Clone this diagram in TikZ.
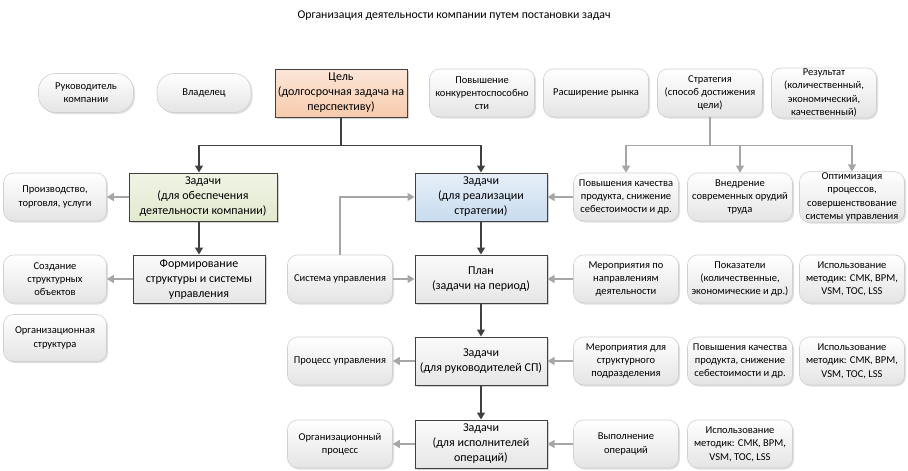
\documentclass[tikz,border=0pt]{standalone}
\usepackage{fontspec}
\setmainfont{Carlito}
\usetikzlibrary{shadows,arrows.meta}
\definecolor{rborder}{HTML}{D0D0D0}
\definecolor{rbot}{HTML}{E4E4E4}
\definecolor{dk}{HTML}{404040}
\definecolor{lg}{HTML}{A6A6A6}
\definecolor{peachT}{HTML}{FCE6D8}
\definecolor{peachB}{HTML}{F7CBAC}
\definecolor{greenT}{HTML}{F0F4E6}
\definecolor{greenB}{HTML}{E2EACD}
\definecolor{blueT}{HTML}{E6EFF8}
\definecolor{blueB}{HTML}{C9DCF0}
\definecolor{grayT}{HTML}{FAFAFA}
\definecolor{grayB}{HTML}{E6E6E6}
\tikzset{
  rbox/.style={rectangle, rounded corners=10pt, draw=rborder, line width=0.6pt,
    top color=white, bottom color=rbot, minimum width=105pt, minimum height=48pt,
    inner sep=1pt, align=center, font=\fontsize{10.5}{13.3}\selectfont,
    drop shadow={shadow xshift=1.5pt, shadow yshift=-1.5pt, opacity=0.25}},
  pill/.style={rbox, rounded corners=17pt, minimum width=95pt, minimum height=39pt},
  tbox/.style={rectangle, draw=dk, line width=1pt, minimum width=132pt, minimum height=48pt,
    inner sep=1pt, align=center, font=\fontsize{12}{15}\selectfont,
    top color=grayT, bottom color=grayB,
    drop shadow={shadow xshift=1.5pt, shadow yshift=-1.5pt, opacity=0.35}},
  darr/.style={draw=dk, line width=1.3pt, -{Triangle[length=7pt,width=8pt]}},
  garr/.style={draw=lg, line width=1.3pt, -{Triangle[length=7pt,width=8pt]}},
}
\begin{document}
\begin{tikzpicture}[x=1pt,y=-1pt]
\useasboundingbox (0,0) rectangle (908,471);
\node[font=\fontsize{11.8}{14}\selectfont] (title) at (454,16) {Организация деятельности компании путем постановки задач};
% top row
\node[pill] (ruk) at (86,93) {Руководитель\\компании};
\node[pill, minimum width=94pt] (vlad) at (204,93) {Владелец};
\node[tbox, top color=peachT, bottom color=peachB] (tsel) at (341,93) {Цель\\(долгосрочная задача на\\перспективу)};
\node[rbox] (pov) at (482,93) {Повышение\\конкурентоспособно\\сти};
\node[rbox] (ras) at (596,93) {Расширение рынка};
\node[rbox] (strat) at (710,93) {Стратегия\\(способ достижения\\цели)};
\node[rbox] (rez) at (824,93) {Результат\\(количественный,\\экономический,\\качественный)};
% row 2
\node[rbox, minimum width=103pt] (proizv) at (55,197) {Производство,\\торговля, услуги};
\node[tbox, minimum width=148pt, top color=greenT, bottom color=greenB] (zad1) at (203,197) {Задачи\\(для обеспечения\\деятельности компании)};
\node[tbox, top color=blueT, bottom color=blueB] (zad2) at (481,197) {Задачи\\(для реализации\\стратегии)};
\node[rbox] (pk1) at (626,197) {Повышения качества\\продукта, снижение\\себестоимости и др.};
\node[rbox] (vnedr) at (740,197) {Внедрение\\современных орудий\\труда};
\node[rbox] (opt) at (852,197) {Оптимизация\\процессов,\\совершенствование\\системы управления};
% row 3
\node[rbox, minimum width=103pt] (sozd) at (55,279) {Создание\\структурных\\объектов};
\node[tbox] (form) at (199,279) {Формирование\\структуры и системы\\управления};
\node[rbox] (sysu) at (340,279) {Система управления};
\node[tbox] (plan) at (481,279) {План\\(задачи на период)};
\node[rbox] (mer1) at (626,279) {Мероприятия по\\направлениям\\деятельности};
\node[rbox] (pokaz) at (740,279) {Показатели\\(количественные,\\экономические и др.)};
\node[rbox] (isp1) at (852,279) {Использование\\методик: СМК, BPM,\\VSM, TOC, LSS};
\node[rbox, minimum width=103pt, minimum height=47pt] (orgstr) at (55,338) {Организационная\\структура};
% row 4
\node[rbox] (procu) at (340,361) {Процесс управления};
\node[tbox] (zadsp) at (481,361) {Задачи\\(для руководителей СП)};
\node[rbox] (mer2) at (626,361) {Мероприятия для\\структурного\\подразделения};
\node[rbox] (pk2) at (740,361) {Повышения качества\\продукта, снижение\\себестоимости и др.};
\node[rbox] (isp2) at (852,361) {Использование\\методик: СМК, BPM,\\VSM, TOC, LSS};
% row 5
\node[rbox] (orgpr) at (340,444) {Организационный\\процесс};
\node[tbox] (zadisp) at (481,444) {Задачи\\(для исполнителей\\операций)};
\node[rbox] (vyp) at (626,444) {Выполнение\\операций};
\node[rbox] (isp3) at (740,444) {Использование\\методик: СМК, BPM,\\VSM, TOC, LSS};
% connectors
\draw[darr] (tsel.south) -- ++(0,28) coordinate (j1) -| (zad1.north -| form.north);
\draw[darr] (j1) -| (zad2.north);
\draw[garr] (strat.south) -- ++(0,28) coordinate (j2) -| (pk1.north);
\draw[garr] (j2) -| (vnedr.north);
\draw[garr] (j2) -| (opt.north);
\draw[garr] (pk1.west) -- (zad2.east);
\draw[garr] (zad1.west) -- (proizv.east);
\draw[darr] (zad1.south -| form.north) -- (form.north);
\draw[garr] (form.west) -- (sozd.east);
\draw[garr] (sysu.north) |- (zad2.west);
\draw[garr] (sysu.east) -- (plan.west);
\draw[darr] (zad2.south) -- (plan.north);
\draw[garr] (mer1.west) -- (plan.east);
\draw[darr] (plan.south) -- (zadsp.north);
\draw[garr] (zadsp.west) -- (procu.east);
\draw[garr] (mer2.west) -- (zadsp.east);
\draw[darr] (zadsp.south) -- (zadisp.north);
\draw[garr] (zadisp.west) -- (orgpr.east);
\draw[garr] (vyp.west) -- (zadisp.east);
\end{tikzpicture}
\end{document}
